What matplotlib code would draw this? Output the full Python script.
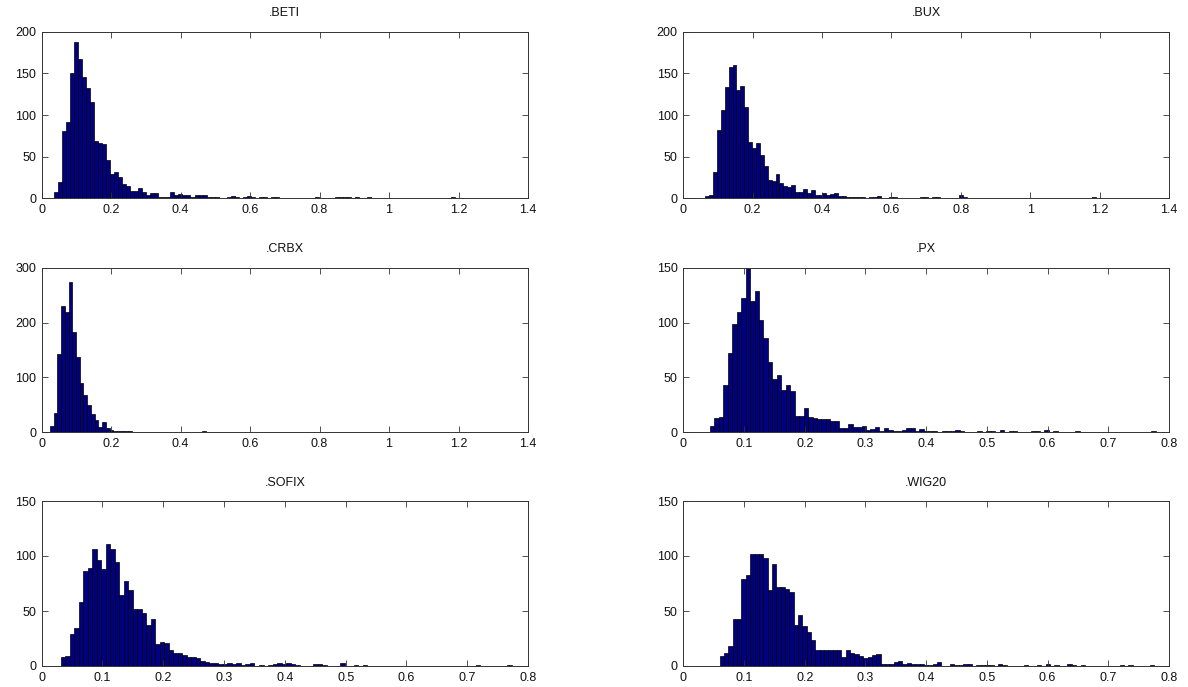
import numpy as np
import matplotlib
matplotlib.use("Agg")
import matplotlib.pyplot as plt

plt.rcParams['font.family'] = ['Liberation Sans', 'DejaVu Sans']

titles = ['.BETI', '.BUX', '.CRBX', '.PX', '.SOFIX', '.WIG20']

# histogram bin starts / widths (100 bins each)
bin_start = [0.036, 0.063, 0.024, 0.044, 0.031, 0.060]
bin_width = [0.01154, 0.01127, 0.0107, 0.00734, 0.00742, 0.00716]

def sparse(n, head, tail):
    c = list(head) + [0] * (n - len(head))
    for k, v in tail.items():
        c[k] = v
    return c

beti_counts = sparse(100, [
    7, 20, 81, 91, 150, 188, 167, 146, 133, 116,
    69, 66, 65, 46, 29, 32, 26, 17, 15, 9,
    9, 12, 8, 4, 6, 6, 2, 2, 2, 7,
    4, 5, 4, 4, 1, 4, 4, 4, 1, 1,
    1, 0, 0, 2, 3, 1, 0, 2, 3, 2,
    0, 1, 1, 0, 1, 1],
    {65: 2, 70: 1, 71: 1, 72: 1, 73: 1, 75: 1, 78: 1, 99: 1})

bux_counts = sparse(100, [
    3, 4, 32, 82, 106, 134, 158, 160, 130, 135,
    110, 67, 60, 66, 52, 39, 22, 21, 29, 18,
    15, 13, 16, 8, 8, 11, 6, 10, 4, 4,
    6, 4, 5, 6, 3, 3, 1, 1, 1, 1,
    1, 0, 1, 2, 3, 0, 0, 1, 2, 0],
    {55: 1, 56: 1, 58: 1, 59: 1, 65: 4, 66: 1, 99: 1})

crbx_counts = sparse(100, [
    12, 36, 142, 231, 219, 274, 182, 138, 89, 68,
    50, 33, 22, 10, 18, 8, 4, 3, 3, 2,
    3, 2, 1, 1, 0, 0, 0, 0, 1, 1,
    0, 1, 1],
    {41: 2, 53: 1, 72: 1, 99: 1})

px_counts = sparse(100, [
    6, 13, 14, 43, 72, 99, 110, 122, 150, 120,
    129, 102, 86, 64, 49, 52, 39, 43, 38, 15,
    15, 22, 14, 13, 12, 12, 12, 10, 10, 4,
    4, 8, 5, 5, 6, 2, 3, 5, 1, 4,
    2, 1, 1, 2, 4, 4, 1, 3, 1, 1,
    1, 0, 1, 1, 1, 2, 1, 0, 0, 0,
    1, 0, 1, 1, 0, 2, 0, 1, 1, 0,
    0, 0, 1, 1, 0, 2, 0, 1, 0, 0,
    0, 0, 1],
    {99: 1})

sofix_counts = sparse(100, [
    8, 9, 29, 35, 58, 86, 89, 106, 96, 88,
    111, 106, 95, 65, 77, 69, 52, 52, 48, 37,
    43, 20, 22, 21, 15, 12, 12, 10, 8, 8,
    7, 5, 4, 3, 3, 2, 2, 3, 2, 3,
    1, 2, 3, 0, 1, 0, 1, 2, 3, 2,
    3, 2, 1, 0, 0, 0, 2, 2, 1, 0,
    0, 0, 3, 0, 0, 1, 0, 1],
    {92: 1, 99: 1})

wig20_counts = sparse(100, [
    9, 12, 18, 43, 43, 79, 83, 102, 102, 102,
    98, 69, 93, 72, 72, 70, 67, 37, 46, 36,
    31, 24, 15, 15, 15, 15, 15, 15, 8, 15,
    12, 11, 9, 7, 8, 10, 11, 2, 2, 2,
    4, 5, 2, 3, 2, 2, 2, 1, 1, 2,
    4, 0, 0, 2, 1, 1, 2, 2, 0, 1,
    1, 1, 1],
    {64: 2, 65: 1, 70: 1, 73: 1, 75: 2, 77: 1, 80: 2, 81: 1, 83: 1,
     92: 1, 94: 1, 99: 1})

all_counts = [beti_counts, bux_counts, crbx_counts, px_counts, sofix_counts, wig20_counts]

x_max = [1.4, 1.4, 1.4, 0.8, 0.8, 0.8]
x_step = [0.2, 0.2, 0.2, 0.1, 0.1, 0.1]
y_max = [200, 200, 300, 150, 150, 150]
y_step = [50, 50, 100, 50, 50, 50]

W, H = 1188, 687
fig = plt.figure(figsize=(W / 100, H / 100), dpi=100)

col_left = [41.7, 683.3]
col_right = [528.0, 1169.0]
row_top = [31.7, 267.7, 501.0]
row_bot = [198.3, 432.3, 666.0]

for i in range(6):
    r, c = divmod(i, 2)
    l = col_left[c] / W
    w = (col_right[c] - col_left[c]) / W
    b = 1 - row_bot[r] / H
    h = (row_bot[r] - row_top[r]) / H
    ax = fig.add_axes([l, b, w, h])
    counts = np.array(all_counts[i])
    edges = bin_start[i] + bin_width[i] * np.arange(len(counts))
    ax.bar(edges, counts, width=bin_width[i], align='edge',
           color='#000080', edgecolor='black', linewidth=0.5)
    ax.set_xlim(0, x_max[i])
    ax.set_ylim(0, y_max[i])
    xt = np.round(np.arange(0, x_max[i] + 1e-9, x_step[i]), 2)
    ax.set_xticks(xt)
    ax.set_xticklabels(['%g' % v for v in xt])
    yt = np.arange(0, y_max[i] + 1, y_step[i])
    ax.set_yticks(yt)
    ax.set_yticklabels(['%d' % v for v in yt])
    ax.tick_params(direction='in', top=True, right=True, length=4,
                   width=0.6, labelsize=9, pad=4, colors='#333333',
                   labelcolor='#111111')
    for s in ax.spines.values():
        s.set_linewidth(0.7)
        s.set_color('#333333')
    ax.set_title(titles[i], fontsize=9, pad=11, color='#111111')

fig.savefig('out.png', dpi=100)
